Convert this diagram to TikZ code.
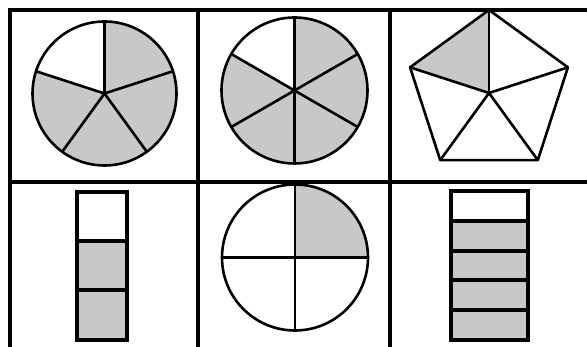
\documentclass[tikz,border=0pt]{standalone}
\usetikzlibrary{calc}
\definecolor{shade}{RGB}{200,200,200}
\tikzset{
  gridline/.style={line width=3.5pt, black},
  outline/.style={line width=2.6pt, black, line join=round},
  spoke/.style={line width=2.6pt, black},
  part/.style={fill=shade, draw=none},
  barbox/.style={line width=4pt, black, line join=miter},
  bardiv/.style={line width=3.2pt, black}
}
\begin{document}
\begin{tikzpicture}[x=1pt,y=1pt]
\useasboundingbox (0,0) rectangle (587,347);
% grid
\coordinate (tl) at (10,337);
\coordinate (tr) at (587,337);
\coordinate (bl) at (10,0);
\coordinate (ml) at (10,165);
\coordinate (mr) at (587,165);
\coordinate (v1t) at (198,337);
\coordinate (v1b) at (198,0);
\coordinate (v2t) at (390,337);
\coordinate (v2b) at (390,0);
\draw[gridline] ([xshift=-1.75pt]tl) -- (tr);
\draw[gridline] ([yshift=1.75pt]tl) -- (bl);
\draw[gridline] (ml) -- (mr);
\draw[gridline] ([yshift=1.75pt]v1t) -- (v1b);
\draw[gridline] ([yshift=1.75pt]v2t) -- (v2b);
% pie of fifths
\coordinate (p1) at (104.5,253.5);
\fill[part] (p1) -- ++(162:72) arc[start angle=162, end angle=450, radius=72] -- cycle;
\foreach \a in {90,18,-54,-126,162} \draw[spoke] (p1) -- ++(\a:72);
\draw[outline] (p1) circle[radius=72];
% pie of sixths
\coordinate (p2) at (294.5,256.5);
\fill[part] (p2) -- ++(150:73) arc[start angle=150, end angle=450, radius=73] -- cycle;
\foreach \a in {90,30,-30,-90,-150,150} \draw[spoke] (p2) -- ++(\a:73);
\draw[outline] (p2) circle[radius=73];
% pentagon
\coordinate (p3) at (489,254);
\fill[part] (p3) -- ($(p3)+(90:83)$) -- ($(p3)+(162:83)$) -- cycle;
\foreach \a in {90,18,-54,-126,162} \draw[spoke] (p3) -- ++(\a:83);
\draw[outline] ($(p3)+(90:83)$) -- ($(p3)+(18:83)$) -- ($(p3)+(-54:83)$) -- ($(p3)+(-126:83)$) -- ($(p3)+(162:83)$) -- cycle;
% bar of thirds
\fill[part] (77,7) rectangle (127,106);
\draw[bardiv] (77,106) -- (127,106);
\draw[bardiv] (77,57) -- (127,57);
\draw[barbox] (77,7) rectangle (127,155);
% circle of quarters
\coordinate (p4) at (295,89.5);
\fill[part] (p4) -- ++(0:73) arc[start angle=0, end angle=90, radius=73] -- cycle;
\foreach \a in {0,90,180,270} \draw[spoke] (p4) -- ++(\a:73);
\draw[outline] (p4) circle[radius=73];
% bar of fifths
\fill[part] (451,7) rectangle (528,126);
\foreach \y in {126,96,67,37} \draw[bardiv] (451,\y) -- (528,\y);
\draw[barbox] (451,7) rectangle (528,156);
\end{tikzpicture}
\end{document}
